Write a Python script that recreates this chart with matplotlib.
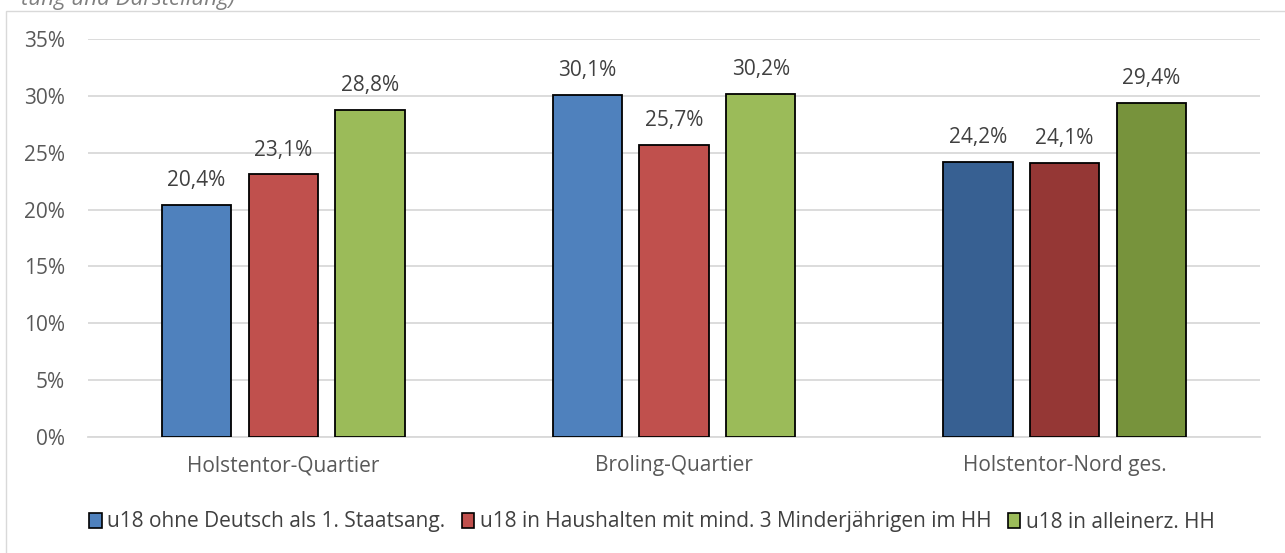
import matplotlib.pyplot as plt
from matplotlib.patches import Rectangle
import numpy as np

categories = ["Holstentor-Quartier", "Broling-Quartier", "Holstentor-Nord ges."]
series_names = ["u18 ohne Deutsch als 1. Staatsang.",
                "u18 in Haushalten mit mind. 3 Minderjährigen im HH",
                "u18 in alleinerz. HH"]
ohne_deutsch = [20.4, 30.1, 24.2]
haushalte_3 = [23.1, 25.7, 24.1]
alleinerz = [28.8, 30.2, 29.4]
yticks = [0, 5, 10, 15, 20, 25, 30, 35]

base_colors = ["#4F81BD", "#C0504D", "#9BBB59"]
dark_colors = ["#376092", "#953735", "#77933C"]

plt.rcParams['font.family'] = ['Open Sans', 'DejaVu Sans']

fig = plt.figure(figsize=(12.85, 5.53), dpi=100)
ax = fig.add_axes([88 / 1285, 116 / 553, 1172 / 1285, 398 / 553])

x = np.arange(len(categories))
width = 0.177
gap = 0.222
for i, vals in enumerate([ohne_deutsch, haushalte_3, alleinerz]):
    cols = [base_colors[i], base_colors[i], dark_colors[i]]
    bars = ax.bar(x + (i - 1) * gap, vals, width, color=cols,
                  edgecolor="black", linewidth=1.3, label=series_names[i], zorder=3)
    for b, v in zip(bars, vals):
        ax.text(b.get_x() + b.get_width() / 2, v + 1.2, f"{v:.1f}%".replace(".", ","),
                ha="center", va="bottom", fontsize=15, color="#404040")

ax.set_xlim(-0.5, 2.5)
ax.set_ylim(0, 35)
ax.set_yticks(yticks)
ax.set_yticklabels([f"{t}%" for t in yticks], fontsize=15, color="#595959")
ax.set_xticks(x)
ax.set_xticklabels(categories, fontsize=15, color="#595959")
ax.tick_params(length=0)
ax.tick_params(axis="x", pad=13)
ax.tick_params(axis="y", pad=16.5)
ax.grid(axis="y", color="#D9D9D9", linewidth=1.3, zorder=0)
for s in ["top", "right", "left"]:
    ax.spines[s].set_visible(False)
ax.spines["bottom"].set_color("#D9D9D9")
ax.spines["bottom"].set_linewidth(1.3)

handles = [Rectangle((0, 0), 1, 1, facecolor=base_colors[i], edgecolor="black", linewidth=1.2)
           for i in range(3)]
fig.legend(handles, series_names, loc="center", bbox_to_anchor=(652 / 1285, 1 - 522 / 553),
           ncol=3, frameon=False, fontsize=15, handlelength=0.6, handleheight=0.75,
           handletextpad=0.25, columnspacing=0.8, labelcolor="#404040")

# chart frame and cut-off caption
fig.patches.append(Rectangle((6 / 1285, -0.01), 1.0, 1 - 11 / 553 + 0.01, transform=fig.transFigure,
                             fill=False, edgecolor="#D9D9D9", linewidth=1))
fig.text(235 / 1285, 1 - 5 / 553, "tung und Darstellung)", ha="right", va="baseline",
         fontsize=16, style="italic", color="#7F7F7F")

fig.savefig("out.png", dpi=100)
